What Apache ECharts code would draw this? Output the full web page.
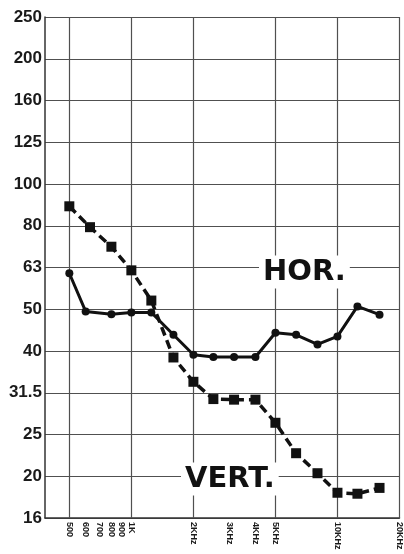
<!DOCTYPE html>
<html>
<head>
<meta charset="utf-8">
<script src="https://cdn.jsdelivr.net/npm/echarts@6/dist/echarts.min.js"></script>
<style>
  html, body { margin: 0; padding: 0; background: #fff; }
  #chart { width: 404px; height: 554px; }
</style>
</head>
<body>
<div id="chart"></div>
<script>
// y ticks are third-octave steps, drawn equally spaced
const yLabels = ['16', '20', '25', '31.5', '40', '50', '63', '80', '100', '125', '160', '200', '250'];
const xTickFreqs = [500, 600, 700, 800, 900, 1000, 2000, 3000, 4000, 5000, 10000, 20000];
const xTickLabels = ['500', '600', '700', '800', '900', '1K', '2KHz', '3KHz', '4KHz', '5KHz', '10KHz', '20KHz'];
const gridFreqs = [500, 1000, 2000, 5000, 10000, 20000];

const horFreqs = [500, 600, 800, 1000, 1250, 1600, 2000, 2500, 3150, 4000, 5000, 6300, 8000, 10000, 12500, 16000];
const horValues = [62, 50.2, 49.4, 49.9, 49.9, 44.1, 39.5, 39, 39, 39, 44.6, 44.1, 41.8, 43.7, 51.6, 49.3];
const vertFreqs = [500, 630, 800, 1000, 1250, 1600, 2000, 2500, 3150, 4000, 5000, 6300, 8000, 10000, 12500, 16000];
const vertValues = [89.8, 80, 71.8, 63, 53.3, 38.9, 34, 30.9, 30.8, 30.8, 27.1, 22.9, 20.5, 18.4, 18.3, 18.9];

const fx = f => Math.log2(f / 1000);
const fy = v => 3 * Math.log2(v / 16);

const chart = echarts.init(document.getElementById('chart'), null, { renderer: 'canvas' });

const option = {
  backgroundColor: '#fff',
  animation: false,
  grid: { left: 45, right: 2, top: 17, bottom: 36 },
  xAxis: {
    type: 'value',
    min: fx(381),
    max: fx(20000),
    splitLine: { show: false },
    axisLine: { onZero: false, lineStyle: { color: '#333', width: 1.5 } },
    axisTick: { show: false },
    axisLabel: {
      customValues: xTickFreqs.map(fx),
      rotate: -90,
      margin: 4,
      fontSize: 9,
      fontWeight: 'bold',
      fontFamily: 'Liberation Sans',
      color: '#1a1a1a',
      formatter: function (v) {
        const f = Math.round(1000 * Math.pow(2, v));
        const i = xTickFreqs.indexOf(f);
        return i >= 0 ? xTickLabels[i] : '';
      }
    }
  },
  yAxis: {
    type: 'value',
    min: 0,
    max: 12,
    interval: 1,
    axisLine: { show: true, onZero: false, lineStyle: { color: '#333', width: 1.5 } },
    axisTick: { show: false },
    splitLine: { lineStyle: { color: '#505050', width: 1.2 } },
    axisLabel: {
      margin: 3,
      fontSize: 17,
      fontWeight: 'bold',
      fontFamily: 'Liberation Sans',
      color: '#1a1a1a',
      formatter: v => yLabels[v]
    }
  },
  graphic: [
    {
      type: 'text', z: 100, x: 259, y: 272,
      style: {
        text: 'HOR.', font: 'bold 29px "DejaVu Sans"', fill: '#111',
        verticalAlign: 'middle', backgroundColor: '#fff', padding: [2, 4]
      }
    },
    {
      type: 'text', z: 100, x: 181, y: 479,
      style: {
        text: 'VERT.', font: 'bold 29px "DejaVu Sans"', fill: '#111',
        verticalAlign: 'middle', backgroundColor: '#fff', padding: [2, 4]
      }
    }
  ],
  series: [
    {
      type: 'line',
      data: [],
      z: 1,
      markLine: {
        silent: true,
        symbol: 'none',
        label: { show: false },
        lineStyle: { color: '#505050', width: 1.2, type: 'solid' },
        data: gridFreqs.map(f => ({ xAxis: fx(f) }))
      }
    },
    {
      name: 'HOR.',
      type: 'line',
      z: 5,
      data: horFreqs.map((f, i) => [fx(f), fy(horValues[i])]),
      symbol: 'circle',
      symbolSize: 8,
      itemStyle: { color: '#111' },
      lineStyle: { color: '#111', width: 3 }
    },
    {
      name: 'VERT.',
      type: 'line',
      z: 5,
      data: vertFreqs.map((f, i) => [fx(f), fy(vertValues[i])]),
      symbol: 'rect',
      symbolSize: 10,
      itemStyle: { color: '#111' },
      lineStyle: { color: '#111', width: 3.5, type: [9, 5] }
    }
  ]
};

chart.setOption(option);
</script>
</body>
</html>
